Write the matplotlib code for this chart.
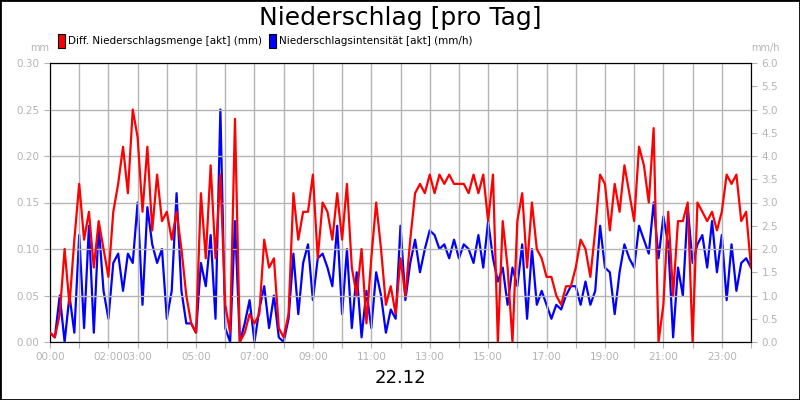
import numpy as np
import matplotlib.pyplot as plt
from matplotlib.patches import Rectangle

# 10-minute samples, 00:00 .. 24:00
diff_menge_mm = [
    0.01, 0.005, 0.03, 0.10, 0.04, 0.11,
    0.17, 0.11, 0.14, 0.08, 0.13, 0.10,
    0.07, 0.14, 0.17, 0.21, 0.16, 0.25,
    0.22, 0.14, 0.21, 0.12, 0.18, 0.13,
    0.14, 0.11, 0.14, 0.10, 0.05, 0.02,
    0.01, 0.16, 0.09, 0.19, 0.09, 0.18,
    0.04, 0.01, 0.24, 0.0, 0.01, 0.03,
    0.02, 0.03, 0.11, 0.08, 0.09, 0.015,
    0.005, 0.03, 0.16, 0.11, 0.14, 0.14,
    0.18, 0.09, 0.15, 0.14, 0.11, 0.16,
    0.11, 0.17, 0.08, 0.05, 0.10, 0.02,
    0.09, 0.15, 0.10, 0.04, 0.06, 0.03,
    0.09, 0.05, 0.11, 0.16, 0.17, 0.16,
    0.18, 0.16, 0.18, 0.17, 0.18, 0.17,
    0.17, 0.17, 0.16, 0.18, 0.16, 0.18,
    0.13, 0.18, 0.0, 0.13, 0.08, 0.0,
    0.13, 0.16, 0.08, 0.15, 0.10, 0.09,
    0.07, 0.07, 0.05, 0.04, 0.06, 0.06,
    0.08, 0.11, 0.10, 0.07, 0.12, 0.18,
    0.17, 0.12, 0.17, 0.14, 0.19, 0.16,
    0.13, 0.21, 0.19, 0.15, 0.23, 0.0,
    0.04, 0.14, 0.05, 0.13, 0.13, 0.15,
    0.0, 0.15, 0.14, 0.13, 0.14, 0.12,
    0.14, 0.18, 0.17, 0.18, 0.13, 0.14,
    0.08,
]

intensitaet_mmh = [
    0.2, 0.1, 1.0, 0.0, 1.0, 0.2,
    2.3, 0.3, 2.5, 0.2, 2.5, 1.1,
    0.5, 1.7, 1.9, 1.1, 1.9, 1.7,
    3.0, 0.8, 2.9, 2.1, 1.7, 2.0,
    0.5, 1.1, 3.2, 1.1, 0.4, 0.4,
    0.2, 1.7, 1.2, 2.3, 0.5, 5.0,
    0.3, 0.0, 2.6, 0.0, 0.4, 0.9,
    0.0, 0.7, 1.2, 0.3, 1.0, 0.1,
    0.0, 0.5, 1.9, 0.6, 1.7, 2.1,
    0.9, 1.8, 1.9, 1.6, 1.2, 2.5,
    0.6, 2.0, 0.3, 1.5, 0.1, 1.1,
    0.3, 1.5, 1.0, 0.2, 0.7, 0.5,
    2.5, 0.9, 1.7, 2.2, 1.5, 2.0,
    2.4, 2.3, 2.0, 2.1, 1.8, 2.2,
    1.8, 2.1, 2.0, 1.7, 2.3, 1.6,
    2.6, 1.8, 1.3, 1.6, 0.8, 1.6,
    1.2, 2.1, 0.5, 2.0, 0.8, 1.1,
    0.8, 0.5, 0.8, 0.7, 1.0, 1.2,
    1.2, 0.8, 1.3, 0.8, 1.1, 2.5,
    1.6, 1.5, 0.6, 1.5, 2.1, 1.8,
    1.6, 2.5, 2.2, 1.9, 3.0, 1.8,
    2.7, 2.1, 0.1, 1.6, 1.0, 2.9,
    1.7, 2.1, 2.3, 1.6, 2.6, 1.5,
    2.3, 0.9, 2.1, 1.1, 1.7, 1.8,
    1.6,
]

hour_labels = {0: '00:00', 2: '02:00', 3: '03:00', 5: '05:00', 7: '07:00', 9: '09:00',
               11: '11:00', 13: '13:00', 15: '15:00', 17: '17:00', 19: '19:00',
               21: '21:00', 23: '23:00'}

hours = np.arange(len(diff_menge_mm)) / 6.0
gray = '#b4b4b4'

fig = plt.figure(figsize=(8, 4), dpi=100)
fig.patches.append(Rectangle((0, 0), 1, 1, transform=fig.transFigure, fill=False,
                             edgecolor='black', linewidth=2))
ax = fig.add_axes([50 / 800, 58 / 400, 701 / 800, 279 / 400])
ax2 = ax.twinx()

ax.plot(hours, diff_menge_mm, color='#ff0000', lw=1.6, zorder=3)
ax2.plot(hours, intensitaet_mmh, color='#0000ff', lw=1.6, zorder=2)
ax.set_zorder(ax2.get_zorder() + 1)
ax.patch.set_visible(False)

ax.set_xlim(0, 24)
ax.set_ylim(0, 0.30)
ax2.set_ylim(0, 6.0)
ax.set_xticks(range(25))
ax.set_xticklabels([hour_labels.get(h, '') for h in range(25)])
ax.set_yticks(np.arange(0, 0.301, 0.05))
ax.set_yticklabels([f'{v:.2f}' for v in np.arange(0, 0.301, 0.05)])
ax2.set_yticks(np.arange(0, 6.01, 0.5))
ax2.set_yticklabels([f'{v:.1f}' for v in np.arange(0, 6.01, 0.5)])
ax.grid(True, color=gray, lw=1)
for a in (ax, ax2):
    a.tick_params(colors=gray, labelsize=7.5, length=4)
    for s in a.spines.values():
        s.set_color('black')

fig.text(0.5, 0.955, 'Niederschlag [pro Tag]', ha='center', va='center', fontsize=18)
fig.text(0.5, 0.055, '22.12', ha='center', va='center', fontsize=13)
fig.text(40 / 800, 0.88, 'mm', ha='center', va='center', fontsize=7, color=gray)
fig.text(765 / 800, 0.88, 'mm/h', ha='center', va='center', fontsize=7, color=gray)

fig.patches.append(Rectangle((58 / 800, 352 / 400), 7 / 800, 14 / 400, transform=fig.transFigure,
                             facecolor='#ff0000', edgecolor='black', lw=0.8))
fig.text(68 / 800, 359 / 400, 'Diff. Niederschlagsmenge [akt] (mm)', va='center', fontsize=7.5)
fig.patches.append(Rectangle((269 / 800, 352 / 400), 7 / 800, 14 / 400, transform=fig.transFigure,
                             facecolor='#0000ff', edgecolor='black', lw=0.8))
fig.text(279 / 800, 359 / 400, 'Niederschlagsintensität [akt] (mm/h)', va='center', fontsize=7.5)

fig.savefig('out.png', dpi=100)
